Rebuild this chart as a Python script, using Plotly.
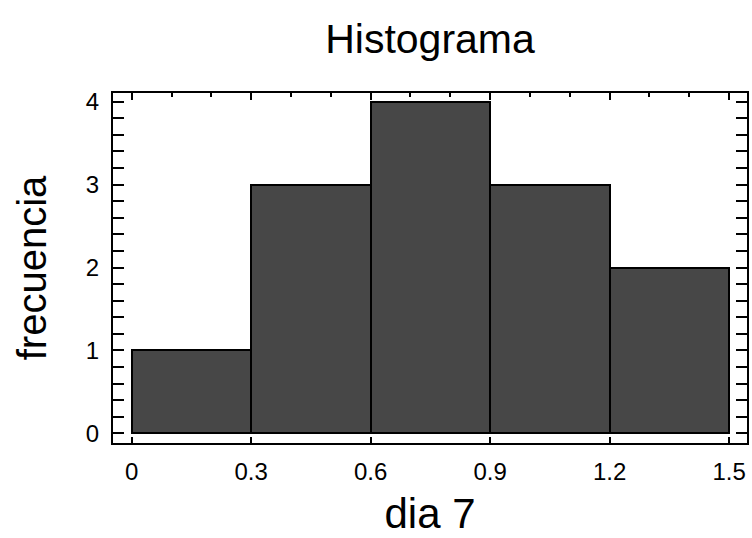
import plotly.graph_objects as go

bin_edges = [0.0, 0.3, 0.6, 0.9, 1.2, 1.5]
counts = [1, 3, 4, 3, 2]
x_ticks = [0, 0.3, 0.6, 0.9, 1.2, 1.5]
x_tick_labels = ["0", "0.3", "0.6", "0.9", "1.2", "1.5"]
y_ticks = [0, 1, 2, 3, 4]

centers = [(a + b) / 2 for a, b in zip(bin_edges[:-1], bin_edges[1:])]
widths = [b - a for a, b in zip(bin_edges[:-1], bin_edges[1:])]

FONT = "Liberation Sans, Arial, sans-serif"
xr = [-0.047, 1.545]
yr = [-0.117, 4.105]

fig = go.Figure()
fig.add_trace(go.Bar(x=centers, y=counts, width=widths,
                     marker=dict(color="#474747", line=dict(color="black", width=2)),
                     showlegend=False, hoverinfo="skip"))
# invisible trace for top axis
fig.add_trace(go.Scatter(x=[xr[0]], y=[0], xaxis="x2", mode="markers",
                         marker=dict(opacity=0), showlegend=False, hoverinfo="skip"))

fig.update_layout(
    width=752, height=538,
    margin=dict(l=113, r=3, t=93, b=95),
    paper_bgcolor="white", plot_bgcolor="white",
    font=dict(family=FONT, color="black"),
    bargap=0,
    title=dict(text="Histograma", x=0.5, xref="paper", xanchor="center",
               y=1 - 39 / 538, yref="container", yanchor="middle",
               font=dict(size=41, family=FONT)),
    xaxis=dict(range=xr, tickvals=x_ticks, ticktext=x_tick_labels, ticks="inside",
               ticklen=6, tickwidth=2, tickcolor="black",
               showline=True, linecolor="black", linewidth=2, mirror=False,
               showgrid=False, zeroline=False, tickfont=dict(size=24),
               ticklabelstandoff=6,
               title=dict(text="dia 7", font=dict(size=42), standoff=15)),
    xaxis2=dict(range=xr, overlaying="x", side="top", tickvals=x_ticks,
                showticklabels=False, ticks="inside", ticklen=7, tickwidth=2,
                tickcolor="black", showline=True, linecolor="black", linewidth=2,
                showgrid=False, zeroline=False,
                minor=dict(dtick=0.1, tick0=0, ticks="inside", ticklen=4, tickwidth=2,
                           tickcolor="black", showgrid=False)),
    yaxis=dict(range=yr, tickvals=y_ticks, ticks="inside", ticklen=11, tickwidth=2,
               tickcolor="black", showline=True, linecolor="black", linewidth=2,
               mirror="allticks", showgrid=False, zeroline=False, tickfont=dict(size=24),
               ticklabelstandoff=7,
               minor=dict(dtick=0.2, tick0=0, ticks="inside", ticklen=5, tickwidth=2,
                          tickcolor="black", showgrid=False),
               title=dict(text="frecuencia", font=dict(size=40), standoff=27)),
)

fig.write_html("out.html")
